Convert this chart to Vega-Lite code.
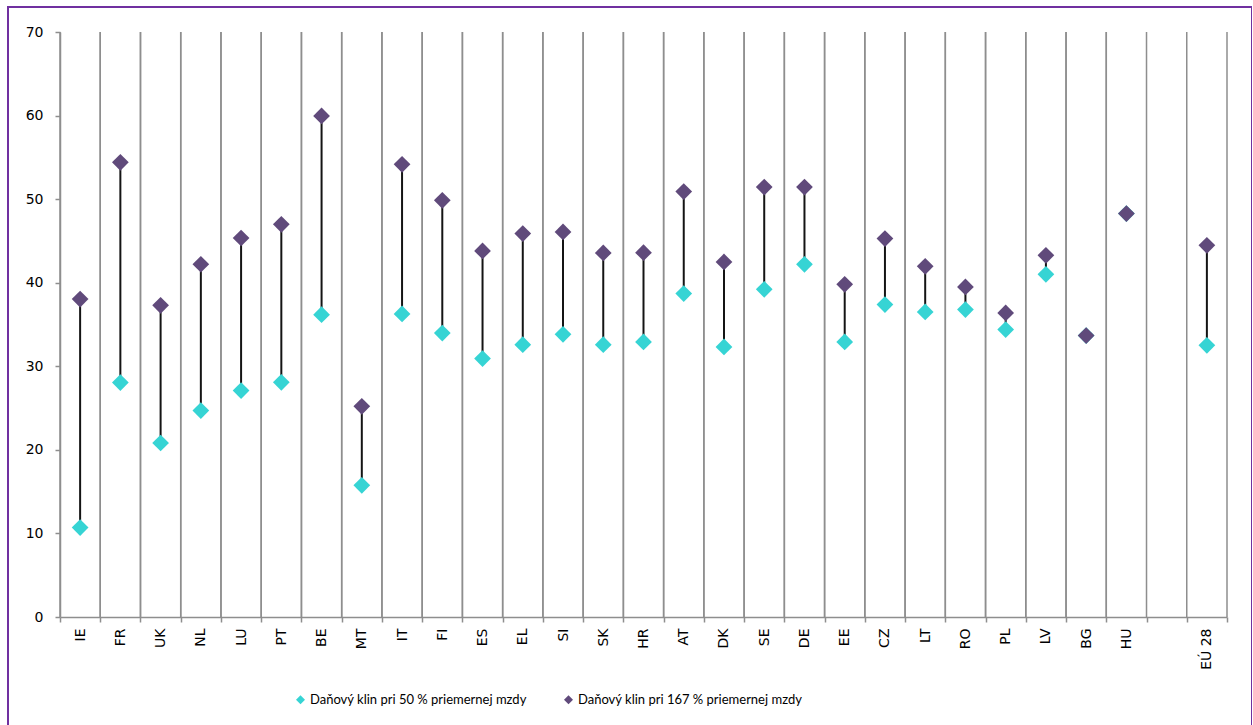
{
  "$schema": "https://vega.github.io/schema/vega-lite/v6.json",
  "autosize": "none",
  "padding": {"left": 8, "top": 7, "right": 0, "bottom": 0},
  "width": 1244,
  "height": 720,
  "background": "white",
  "config": {
    "view": {"stroke": "#7030A0", "strokeWidth": 2, "fill": "white"},
    "axis": {
      "labelFont": "DejaVu Sans",
      "labelFontSize": 14,
      "labelColor": "#000000",
      "domainColor": "#8E8E8E",
      "domainWidth": 1.5,
      "tickColor": "#8E8E8E",
      "tickWidth": 1.5,
      "tickSize": 5,
      "grid": false,
      "title": null
    }
  },
  "data": {
    "values": [
      {"krajina": "IE", "p50": 10.7, "p167": 38.05},
      {"krajina": "FR", "p50": 28.05, "p167": 54.41},
      {"krajina": "UK", "p50": 20.82, "p167": 37.3},
      {"krajina": "NL", "p50": 24.7, "p167": 42.21},
      {"krajina": "LU", "p50": 27.09, "p167": 45.35},
      {"krajina": "PT", "p50": 28.08, "p167": 46.99},
      {"krajina": "BE", "p50": 36.18, "p167": 59.95},
      {"krajina": "MT", "p50": 15.76, "p167": 25.21},
      {"krajina": "IT", "p50": 36.26, "p167": 54.17},
      {"krajina": "FI", "p50": 33.98, "p167": 49.86},
      {"krajina": "ES", "p50": 30.92, "p167": 43.8},
      {"krajina": "EL", "p50": 32.59, "p167": 45.88},
      {"krajina": "SI", "p50": 33.83, "p167": 46.07},
      {"krajina": "SK", "p50": 32.59, "p167": 43.56},
      {"krajina": "HR", "p50": 32.91, "p167": 43.6},
      {"krajina": "AT", "p50": 38.7, "p167": 50.9},
      {"krajina": "DK", "p50": 32.31, "p167": 42.48},
      {"krajina": "SE", "p50": 39.21, "p167": 51.45},
      {"krajina": "DE", "p50": 42.2, "p167": 51.45},
      {"krajina": "EE", "p50": 32.91, "p167": 39.81},
      {"krajina": "CZ", "p50": 37.38, "p167": 45.28},
      {"krajina": "LT", "p50": 36.5, "p167": 41.96},
      {"krajina": "RO", "p50": 36.78, "p167": 39.49},
      {"krajina": "PL", "p50": 34.39, "p167": 36.38},
      {"krajina": "LV", "p50": 41.01, "p167": 43.28},
      {"krajina": "BG", "p50": 33.67, "p167": 33.67},
      {"krajina": "HU", "p50": 48.27, "p167": 48.27},
      {"krajina": "EÚ 28", "p50": 32.51, "p167": 44.48}
    ]
  },
  "encoding": {
    "x": {
      "field": "krajina",
      "type": "nominal",
      "sort": null,
      "scale": {
        "domain": ["IE", "FR", "UK", "NL", "LU", "PT", "BE", "MT", "IT", "FI", "ES", "EL", "SI", "SK", "HR", "AT", "DK", "SE", "DE", "EE", "CZ", "LT", "RO", "PL", "LV", "BG", "HU", " ", "EÚ 28"],
        "range": [52, 1219],
        "paddingInner": 0,
        "paddingOuter": 0
      },
      "axis": {
        "orient": "bottom",
        "offset": -110,
        "labelAngle": -90,
        "labelPadding": 6,
        "tickBand": "extent"
      }
    }
  },
  "layer": [
    {
      "description": "category separators at the start of each band",
      "mark": {"type": "rule", "color": "#8E8E8E", "strokeWidth": 1.5},
      "encoding": {
        "x": {"field": "krajina", "type": "nominal", "bandPosition": 0},
        "y": {"datum": 0, "type": "quantitative"},
        "y2": {"datum": 70}
      }
    },
    {
      "description": "category separators at the end of each band",
      "mark": {"type": "rule", "color": "#8E8E8E", "strokeWidth": 1.5},
      "encoding": {
        "x": {"field": "krajina", "type": "nominal", "bandPosition": 1},
        "y": {"datum": 0, "type": "quantitative"},
        "y2": {"datum": 70}
      }
    },
    {
      "mark": {"type": "rule", "color": "#141414", "strokeWidth": 2},
      "encoding": {
        "y": {
          "field": "p50",
          "type": "quantitative",
          "scale": {"domain": [0, 70], "range": [610, 25], "nice": false},
          "axis": {
            "orient": "left",
            "offset": -52,
            "values": [0, 10, 20, 30, 40, 50, 60, 70],
            "labelPadding": 12
          }
        },
        "y2": {"field": "p167"}
      }
    },
    {
      "mark": {"type": "point", "shape": "diamond", "filled": true, "opacity": 1, "size": 280},
      "encoding": {
        "y": {"field": "p50", "type": "quantitative"},
        "color": {"datum": "p50"}
      }
    },
    {
      "mark": {"type": "point", "shape": "diamond", "filled": true, "opacity": 1, "size": 280},
      "encoding": {
        "y": {"field": "p167", "type": "quantitative"},
        "color": {
          "datum": "p167",
          "type": "nominal",
          "scale": {"domain": ["p50", "p167"], "range": ["#36D4D4", "#604A7B"]},
          "legend": {
            "title": null,
            "orient": "none",
            "direction": "horizontal",
            "legendX": 286,
            "legendY": 686,
            "symbolSize": 80,
            "symbolType": "diamond",
            "columnPadding": 35,
            "labelFont": "Lato",
            "labelFontSize": 13,
            "labelColor": "#000000",
            "labelOffset": 3,
            "labelLimit": 0,
            "labelExpr": "datum.label == 'p50' ? 'Daňový klin pri 50 % priemernej mzdy' : 'Daňový klin pri 167 % priemernej mzdy'"
          }
        }
      }
    }
  ]
}
